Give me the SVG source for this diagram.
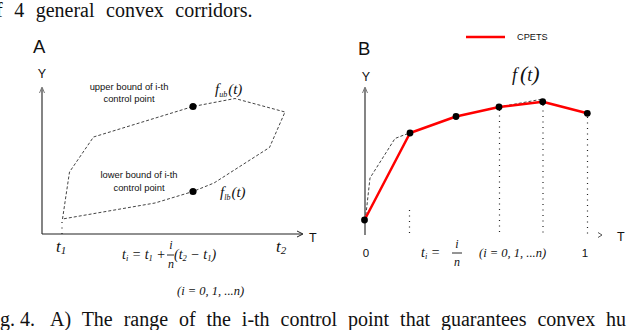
<svg xmlns="http://www.w3.org/2000/svg" width="640" height="330" viewBox="0 0 640 330">
<style>
.cap{font-family:"Liberation Serif","Times New Roman",serif;font-size:20px;fill:#111}
.lab{font-family:"Liberation Sans",Arial,sans-serif;fill:#111}
.m{font-family:"Liberation Serif","Times New Roman",serif;font-style:italic;fill:#111}
.mu{font-family:"Liberation Serif","Times New Roman",serif;fill:#111}
.dash{fill:none;stroke:#444;stroke-width:1;stroke-dasharray:3 2}
.dot{fill:none;stroke:#222;stroke-width:1.2;stroke-dasharray:1 4.5}
.axis{fill:none;stroke:#666;stroke-width:1.6}
.arrow{fill:none;stroke:#777;stroke-width:1}
.pt{fill:#000}
</style>
<rect width="640" height="330" fill="#fff"/>
<text class="cap" x="-4" y="17" word-spacing="6.5">f 4 general convex corridors.</text>

<g id="panelA">
<text class="lab" x="33" y="53" font-size="18.5">A</text>
<text class="lab" x="42" y="78" font-size="12.5" text-anchor="middle">Y</text>
<line class="axis" x1="42" y1="88" x2="42" y2="234"/>
<polyline class="arrow" points="39.5,93 42,87 44.5,93"/>
<line x1="42" y1="234" x2="302" y2="234" stroke="#222" stroke-width="1.2"/>
<polyline points="297,231 303,234 297,237" fill="none" stroke="#222" stroke-width="1"/>
<text class="lab" x="309" y="242" font-size="12.5">T</text>
<polygon class="dash" points="62.5,219 69.5,172 93.5,137 193,106.5 235,98.5 285,112 269.5,147.5 214,183 193,191.5 155,203"/>
<line class="dot" x1="62" y1="222" x2="62" y2="234"/>
<circle class="pt" cx="193" cy="106.5" r="3.6"/>
<circle class="pt" cx="193" cy="191.5" r="3.6"/>
<text class="lab" x="129" y="90" font-size="9.4" text-anchor="middle">upper bound of i-th</text>
<text class="lab" x="129" y="101.5" font-size="9.4" text-anchor="middle">control point</text>
<text class="lab" x="139" y="178" font-size="9.4" text-anchor="middle">lower bound of i-th</text>
<text class="lab" x="139" y="191" font-size="9.4" text-anchor="middle">control point</text>
<text class="m" x="215" y="94" font-size="15">f<tspan font-size="8" dy="3">ub</tspan><tspan class="mu" dy="-3" font-size="15" dx="1">(</tspan>t<tspan class="mu">)</tspan></text>
<text class="m" x="220" y="197" font-size="15">f<tspan font-size="8" dy="3">lb</tspan><tspan class="mu" dy="-3" font-size="15" dx="1">(</tspan>t<tspan class="mu">)</tspan></text>
<text class="m" x="56" y="252" font-size="17">t<tspan class="mu" font-size="11" dy="2">1</tspan></text>
<text class="m" x="276" y="252" font-size="17">t<tspan class="mu" font-size="11" dy="2">2</tspan></text>
<text class="m" x="122" y="259" font-size="14">t<tspan font-size="8.5" dy="2">i</tspan><tspan class="mu" dy="-2"> = </tspan>t<tspan class="mu" font-size="8.5" dy="2">1</tspan><tspan class="mu" dy="-2"> +</tspan></text>
<text class="m" x="171" y="249" font-size="12" text-anchor="middle">i</text>
<line x1="167" y1="255" x2="174" y2="255" stroke="#111" stroke-width="0.9"/>
<text class="m" x="171" y="268" font-size="12" text-anchor="middle">n</text>
<text class="m" x="174" y="259" font-size="14"><tspan class="mu">(</tspan>t<tspan class="mu" font-size="8.5" dy="2">2</tspan><tspan class="mu" dy="-2"> − </tspan>t<tspan class="mu" font-size="8.5" dy="2">1</tspan><tspan class="mu" dy="-2">)</tspan></text>
<text class="m" x="177" y="295" font-size="12.5"><tspan class="mu">(</tspan>i<tspan class="mu"> = 0, 1, ...</tspan>n<tspan class="mu">)</tspan></text>
</g>

<g id="panelB">
<text class="lab" x="358" y="55" font-size="18.5">B</text>
<line x1="466" y1="37" x2="505" y2="37" stroke="#ff0000" stroke-width="2.5"/>
<text class="lab" x="517" y="39.5" font-size="9.2">CPETS</text>
<text class="lab" x="366" y="81" font-size="12.5" text-anchor="middle">Y</text>
<line class="axis" x1="365" y1="88" x2="365" y2="235" stroke-width="2"/>
<polyline class="arrow" points="362.5,93 365,87 367.5,93"/>
<polyline points="598,232.5 602,235 598,237.5" fill="none" stroke="#444" stroke-width="0.9"/>
<text class="lab" x="617" y="241" font-size="12.5">T</text>
<line class="dot" x1="409.5" y1="210" x2="409.5" y2="234"/>
<line class="dot" x1="499.5" y1="110" x2="499.5" y2="234"/>
<line class="dot" x1="543" y1="105" x2="543" y2="234"/>
<line class="dot" x1="587.5" y1="117" x2="587.5" y2="234"/>
<polyline class="dash" points="364.5,220 366,214 370,178 395,138.5 404,135 410,133"/>
<polyline class="dash" points="499,107 540,99.5 543,101.5"/>
<polyline points="364.5,220 410,133 456,116.5 499,107 542.7,101.7 587.3,113.3" fill="none" stroke="#ff0000" stroke-width="2.5" stroke-linejoin="round"/>
<circle class="pt" cx="364.5" cy="220" r="3.4"/>
<circle class="pt" cx="410" cy="133" r="3.4"/>
<circle class="pt" cx="456" cy="116.5" r="3.4"/>
<circle class="pt" cx="499" cy="107" r="3.4"/>
<circle class="pt" cx="542.7" cy="101.7" r="3.4"/>
<circle class="pt" cx="587.3" cy="113.3" r="3.4"/>
<text class="m" x="512" y="81" font-size="18">f<tspan class="mu" font-size="22" dx="3">(</tspan>t<tspan class="mu" font-size="22">)</tspan></text>
<text class="lab" x="366" y="257" font-size="11.5" text-anchor="middle">0</text>
<text class="lab" x="585" y="257" font-size="11.5" text-anchor="middle">1</text>
<text class="m" x="421" y="257" font-size="14">t<tspan font-size="8.5" dy="2">i</tspan><tspan class="mu" dy="-2"> =</tspan></text>
<text class="m" x="457" y="248" font-size="12" text-anchor="middle">i</text>
<line x1="452" y1="253" x2="462" y2="253" stroke="#111" stroke-width="0.9"/>
<text class="m" x="457" y="266" font-size="12" text-anchor="middle">n</text>
<text class="m" x="479" y="257" font-size="12.5"><tspan class="mu">(</tspan>i<tspan class="mu"> = 0, 1, ...</tspan>n<tspan class="mu">)</tspan></text>
</g>

<text class="cap" x="0" y="326" font-size="21.5">g. 4.</text>
<text class="cap" x="50" y="326" font-size="21.5" word-spacing="5.9">A) The range of the i-th control point that guarantees convex hu</text>
</svg>
